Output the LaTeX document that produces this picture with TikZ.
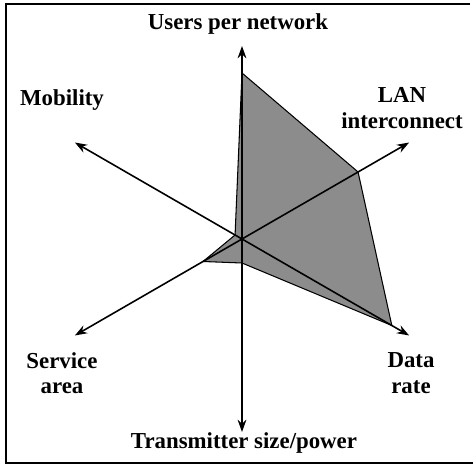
\documentclass[tikz,border=0pt]{standalone}
\usepackage{fontspec}
\setmainfont{Liberation Serif}
\usetikzlibrary{arrows.meta,positioning}
\tikzset
{
    axislabel/.style = {font=\bfseries\fontsize{13}{14.5}\selectfont, align=center, inner sep=0pt},
    arrow/.style     = {line width=0.9pt, ->, >={Stealth[length=7pt, width=5pt]}},
    profile/.style   = {fill=black!45, draw=black, line width=0.6pt, line join=round},
    frame/.style     = {line width=0.8pt}
}

\begin{document}
\begin{tikzpicture}[x=0.02cm, y=0.02cm]

	 \newcommand\AXISLEN{193}
	 \useasboundingbox (0,0) rectangle (473,473);

	 \coordinate (o) at (242, 234);

	 % axis ends
	 \coordinate (users)  at ([shift={(90:\AXISLEN)}]o);
	 \coordinate (lan)    at ([shift={(30:\AXISLEN)}]o);
	 \coordinate (rate)   at ([shift={(-30:\AXISLEN)}]o);
	 \coordinate (power)  at ([shift={(-90:\AXISLEN)}]o);
	 \coordinate (area)   at ([shift={(210:\AXISLEN)}]o);
	 \coordinate (mobil)  at ([shift={(150:\AXISLEN)}]o);

	 % profile values
	 \coordinate (pu) at ([shift={(90:166)}]o);
	 \coordinate (pl) at ([shift={(30:134)}]o);
	 \coordinate (pr) at ([shift={(-30:173)}]o);
	 \coordinate (pp) at ([shift={(-90:24)}]o);
	 \coordinate (pa) at ([shift={(210:45)}]o);
	 \coordinate (pm) at ([shift={(150:8)}]o);

	 \draw[profile] (pu) -- (pl) -- (pr) -- (pp) -- (pa) -- (pm) -- cycle;

	 \path
		  (o)     edge[arrow]  node {} (users)
		  (o)     edge[arrow]  node {} (lan)
		  (o)     edge[arrow]  node {} (rate)
		  (o)     edge[arrow]  node {} (power)
		  (o)     edge[arrow]  node {} (area)
		  (o)     edge[arrow]  node {} (mobil);

	 \node (lusers) [axislabel] at (238, 449) {Users per network};
	 \node (llan)   [axislabel] at (402, 365) {LAN\\interconnect};
	 \node (lmobil) [axislabel] at (62, 373)  {Mobility};
	 \node (larea)  [axislabel] at (62, 100)  {Service\\area};
	 \node (lrate)  [axislabel] at (411, 100) {Data\\rate};
	 \node (lpower) [axislabel] at (244, 30)  {Transmitter size/power};

	 \draw[frame] (470, 469) -- (6, 469) -- (6, 10) -- (473, 10);
\end{tikzpicture}
\end{document}
